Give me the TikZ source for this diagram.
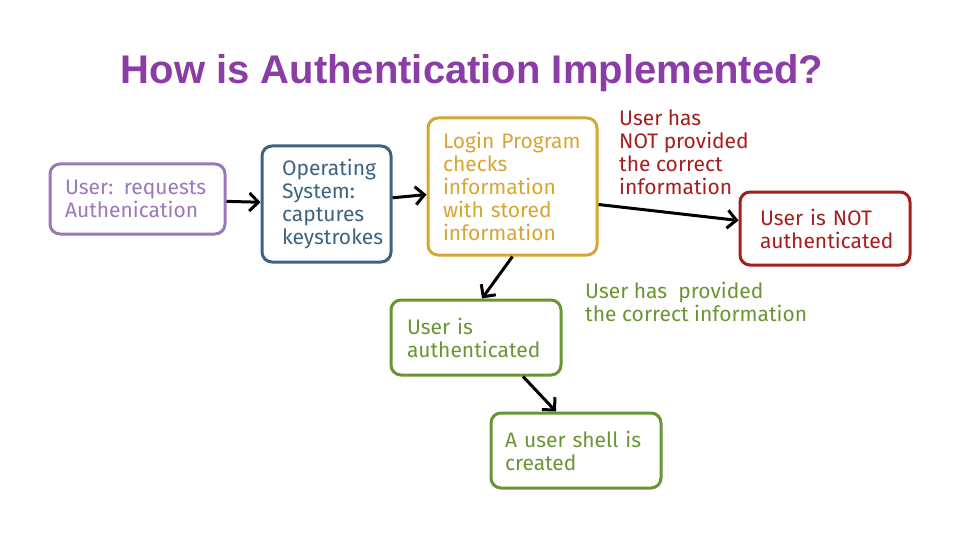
\documentclass[tikz,border=0pt]{standalone}
\usepackage{fontspec}
\setmainfont{Liberation Sans}
\newfontfamily\handfont{Fira Sans}
\usetikzlibrary{arrows.meta}
\definecolor{titlepurple}{RGB}{140,60,165}
\definecolor{userpurple}{RGB}{155,120,185}
\definecolor{osblue}{RGB}{60,100,130}
\definecolor{loginyellow}{RGB}{215,165,50}
\definecolor{failred}{RGB}{165,30,30}
\definecolor{okgreen}{RGB}{105,150,50}
\begin{document}
\begin{tikzpicture}[x=1pt,y=-1pt,
  hand/.style={font=\handfont\fontsize{21}{23}\selectfont},
  box/.style={hand, draw, line width=3pt, rounded corners=10pt, align=left, inner ysep=0pt},
  flow/.style={-{Straight Barb[length=9pt,width=18pt]}, line width=3pt}]
  \useasboundingbox (0,0) rectangle (960,540);
  \node[font=\bfseries\fontsize{40}{48}\selectfont, text=titlepurple] (title) at (472,73) {How is Authentication Implemented?};
  % boxes
  \node[box, userpurple, minimum width=175pt, minimum height=70pt, inner xsep=15pt, text width=145pt] (user) at (137.5,199) {User: requests\\Authenication};
  \node[box, osblue, minimum width=129pt, minimum height=116pt, inner xsep=20pt, text width=89pt] (os) at (326.5,204) {Operating\\System:\\captures\\keystrokes};
  \node[box, loginyellow, minimum width=169pt, minimum height=137pt, inner xsep=15pt, text width=139pt] (login) at (512.5,186.5) {Login~Program\\checks\\information\\with stored\\information};
  \node[box, failred, minimum width=170pt, minimum height=73pt, inner xsep=20pt, text width=130pt] (fail) at (825,228.5) {User is NOT\\authenticated};
  \node[box, okgreen, minimum width=170pt, minimum height=75pt, inner xsep=16pt, text width=138pt] (auth) at (476,337.5) {User is\\authenticated};
  \node[box, okgreen, minimum width=170pt, minimum height=75pt, inner xsep=14pt, text width=142pt] (shell) at (576,450.5) {A user shell is\\created};
  % labels
  \node[hand, failred, anchor=west, align=left, inner sep=0pt] (nolabel) at (619,152) {User has\\NOT provided\\the correct\\information};
  \node[hand, okgreen, anchor=west, align=left, inner sep=0pt] (oklabel) at (585,302) {User has\ \ provided\\the correct information};
  % arrows
  \draw[flow] (user) -- (os);
  \draw[flow] (os) -- (login);
  \draw[flow] ([yshift=-18pt]login.east) -- ([yshift=8pt]fail.west);
  \draw[flow] (login.south) -- ([xshift=6pt]auth.north);
  \draw[flow] ([xshift=47pt]auth.south) -- ([xshift=-20pt]shell.north);
\end{tikzpicture}
\end{document}
